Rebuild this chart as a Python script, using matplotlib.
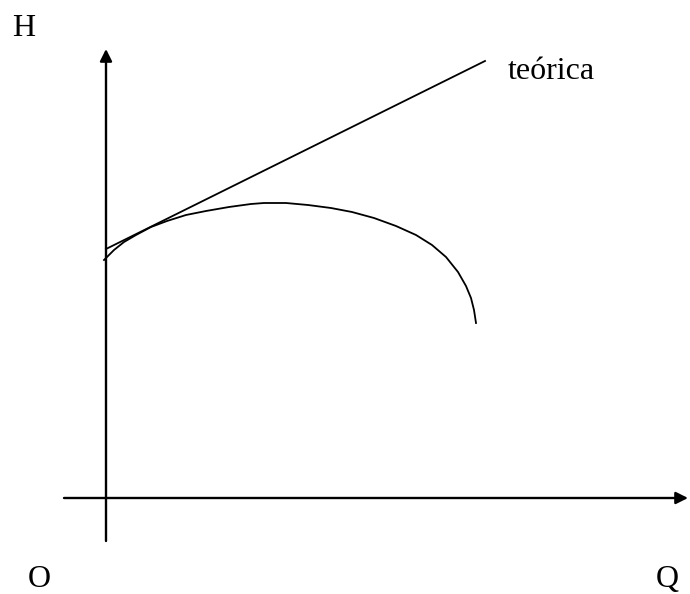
import matplotlib
matplotlib.use('Agg')
import matplotlib.pyplot as plt

q_real = [-2, 8, 18, 30, 45, 61, 80, 100, 123, 145, 158, 180, 202, 225, 246,
          268, 290, 310, 326, 340, 352, 360, 365, 368, 370]
h_real = [238, 248, 256, 263, 271, 277, 283, 287, 291, 294, 295, 295, 293, 290, 286,
          280, 272, 263, 253, 241, 226, 212, 200, 188, 175]

# Recta teórica
q_teo = [0, 379]
h_teo = [249, 437]

# Extremos de los ejes
q_eje = [-42, 582]
h_eje = [-43, 449]

plt.rcParams['font.family'] = ['Liberation Serif', 'DejaVu Serif']

fig = plt.figure(figsize=(6.9, 5.94), dpi=100)
ax = fig.add_axes([0, 0, 1, 1])
ax.set_xlim(-106, 584)
ax.set_ylim(-96, 498)
ax.axis('off')

arrow = dict(arrowstyle='-|>,head_length=0.4,head_width=0.2', mutation_scale=18,
             lw=1.7, color='black', shrinkA=0, shrinkB=0)
ax.annotate('', xy=(q_eje[1], 0), xytext=(q_eje[0], 0), arrowprops=arrow)
ax.annotate('', xy=(0, h_eje[1]), xytext=(0, h_eje[0]), arrowprops=arrow)

ax.plot(q_teo, h_teo, color='black', lw=1.3)
ax.plot(q_real, h_real, color='black', lw=1.3, solid_joinstyle='round')

fs = 23
ax.text(-94, 462, 'H', fontsize=fs, ha='left', va='baseline')
ax.text(-78, -89, 'O', fontsize=fs, ha='left', va='baseline')
ax.text(550, -89, 'Q', fontsize=fs, ha='left', va='baseline')
ax.text(402, 419, 'teórica', fontsize=fs, ha='left', va='baseline')

fig.savefig('out.png', dpi=100)
